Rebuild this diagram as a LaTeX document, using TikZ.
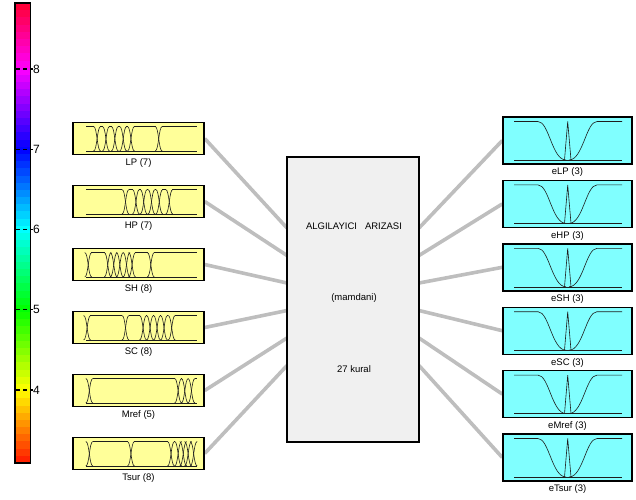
\documentclass[tikz,border=0pt]{standalone}
\usepackage{fontspec}
\setmainfont{Liberation Sans}
\usetikzlibrary{backgrounds}
\definecolor{inyellow}{RGB}{255,255,153}
\definecolor{outcyan}{RGB}{128,255,255}
\definecolor{fisgray}{RGB}{240,240,240}
\definecolor{conn}{RGB}{190,190,190}
\definecolor{mfcol}{RGB}{30,30,30}
\tikzset{
  inbox/.style={draw=black, line width=1.4pt, fill=inyellow, minimum width=131pt, minimum height=32pt, inner sep=0pt},
  outbox/.style={draw=black, line width=1.4pt, fill=outcyan, minimum width=129pt, minimum height=47pt, inner sep=0pt},
  fisbox/.style={draw=black, line width=1.4pt, fill=fisgray, minimum width=132pt, minimum height=285pt, inner sep=0pt},
  lbl/.style={font=\fontsize{9.5}{11}\selectfont, inner sep=0pt},
  fistext/.style={font=\fontsize{9.5}{11}\selectfont, inner sep=0pt},
  cblbl/.style={font=\fontsize{12}{14}\selectfont, inner sep=0pt, anchor=west},
  mfline/.style={draw=mfcol, line width=0.6pt},
  connector/.style={draw=conn, line width=3.6pt},
  cbtick/.style={draw=black, line width=1.3pt, dash pattern=on 3.5pt off 3.5pt}
}
\newcommand\inmfs[2]{%
  \pgfmathsetmacro\myyt{#1+4}%
  \pgfmathsetmacro\myyb{#1+28.5}%
  \draw[mfline] (86,\myyb) -- (197,\myyb);
  \draw[mfline] (86,\myyt) -- (197,\myyt);
  \foreach \t in {#2} {
    \pgfmathsetmacro\xc{86+111*\t}
    \fill[inyellow] (\xc-3.2,\myyt-1) rectangle (\xc+3.2,\myyt+1);
  }
  \foreach \t in {#2} {
    \pgfmathsetmacro\xc{86+111*\t}
    \draw[mfline] (\xc-3.5,\myyt) .. controls (\xc,\myyt) and (\xc,\myyb) .. (\xc+3.5,\myyb);
    \draw[mfline] (\xc-3.5,\myyb) .. controls (\xc,\myyb) and (\xc,\myyt) .. (\xc+3.5,\myyt);
  }
}
\newcommand\outmfs[1]{%
  \pgfmathsetmacro\myyt{#1-19}%
  \pgfmathsetmacro\myyb{#1+19.5}%
  \draw[mfline] (514,\myyb) -- (622,\myyb);
  \draw[mfline] (514,\myyt) -- (538,\myyt) .. controls (549,\myyt) and (552,\myyb) .. (566,\myyb);
  \draw[mfline] (564.5,\myyb) -- (567.7,\myyt) -- (571,\myyb);
  \draw[mfline] (569,\myyb) .. controls (583,\myyb) and (586,\myyt) .. (597,\myyt) -- (622,\myyt);
}
\begin{document}
\begin{tikzpicture}[x=1pt,y=-1pt]
\useasboundingbox (0,0) rectangle (636,499);
% colour bar
\foreach \i in {0,...,63} {
  \pgfmathsetmacro\ya{463-7.1875*(\i+1)}
  \pgfmathsetmacro\yb{463-7.1875*\i}
  \pgfmathsetmacro\hh{max(0,min(0.999,(3.09+(\i+0.5)*0.08953-3)/6))}
  \definecolor{cbc}{hsb}{\hh,1,1}
  \fill[cbc] (15,\ya-0.3) rectangle (30.7,\yb);
}
\draw[black, line width=1.1pt] (15,3) rectangle (30.7,463);
\foreach \v in {4,5,6,7,8} {
  \pgfmathsetmacro\yy{390-(\v-4)*80.25}
  \draw[cbtick] (16,\yy) -- (33,\yy);
  \node[cblbl] (cb\v) at (33,\yy) {\v};
}
% central FIS box
\node[fisbox] (fis) at (353,299.5) {};
\node[fistext] (fisname) at (354,226) {ALGILAYICI\ \ \ ARIZASI};
\node[fistext] (fistype) at (354,298) {(mamdani)};
\node[fistext] (fisrules) at (354,369) {27 kural};
% input boxes
\foreach \n/\lab [count=\k from 0] in {1/LP (7),2/HP (7),3/SH (8),4/SC (8),5/Mref (5),6/Tsur (8)} {
  \pgfmathsetmacro\cy{138.5+63*\k}
  \node[inbox] (in\n) at (138.5,\cy) {};
  \node[lbl] (inl\n) at (138.5,\cy+24.5) {\lab};
  \coordinate (fl\n) at (287,228+27.5*\k);
  \coordinate (fr\n) at (419,228+27.5*\k);
}
% output boxes
\foreach \n/\lab [count=\k from 0] in {1/eLP (3),2/eHP (3),3/eSH (3),4/eSC (3),5/eMref (3),6/eTsur (3)} {
  \pgfmathsetmacro\cy{140.5+63.4*\k}
  \node[outbox] (out\n) at (567.5,\cy) {};
  \node[lbl] (outl\n) at (567.5,\cy+32) {\lab};
  \outmfs{\cy}
}
% input membership functions
\inmfs{122.5}{0.10,0.18,0.26,0.335,0.405,0.655}
\inmfs{185.5}{0.356,0.45,0.52,0.59,0.66,0.75}
\inmfs{248.5}{0.02,0.196,0.25,0.305,0.365,0.415,0.584}
\inmfs{311.5}{0.01,0.356,0.514,0.577,0.64,0.703,0.772}
\inmfs{374.5}{0.03,0.83,0.89,0.95}
\inmfs{437.5}{0.03,0.405,0.766,0.83,0.876,0.92,0.97}
% connectors
\begin{scope}[on background layer]
\foreach \n in {1,...,6} {
  \draw[connector] (in\n.east) -- (fl\n);
  \draw[connector] (fr\n) -- (out\n.west);
}
\end{scope}
\end{tikzpicture}
\end{document}
